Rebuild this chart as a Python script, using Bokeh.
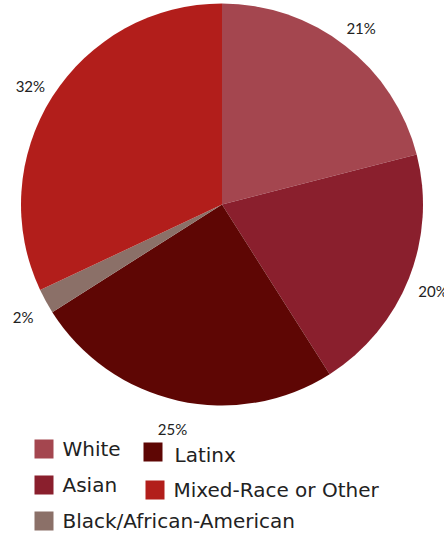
import numpy as np
from bokeh.plotting import figure
from bokeh.models import Range1d, ColumnDataSource
from bokeh.core.properties import value
from bokeh.embed import file_html
from bokeh.resources import INLINE

# ---- data ----
categories = ["White", "Asian", "Latinx", "Black/African-American", "Mixed-Race or Other"]
shares = [21, 20, 25, 2, 32]
labels = ["21%", "20%", "25%", "2%", "32%"]
colors = ["#A4464F", "#8A1F2D", "#5E0604", "#8B7068", "#B21E1B"]

W, H = 444, 533
p = figure(width=W, height=H, output_backend="svg", toolbar_location=None,
           x_range=Range1d(0, W), y_range=Range1d(0, H), min_border=0)
p.axis.visible = False
p.grid.visible = False
p.outline_line_color = None
p.background_fill_color = "white"

cx, cy, r = 221.5, H - 204, 201
frac = np.array(shares, dtype=float) / sum(shares)
cum = np.concatenate([[0], np.cumsum(frac)])
start = np.pi / 2 - 2 * np.pi * cum[:-1]
end = np.pi / 2 - 2 * np.pi * cum[1:]
src = ColumnDataSource(dict(start=start, end=end, color=colors))
p.wedge(x=cx, y=cy, radius=r, start_angle="start", end_angle="end",
        direction="clock", fill_color="color", line_color=None, source=src)

mid = np.pi / 2 - 2 * np.pi * (cum[:-1] + cum[1:]) / 2
lr = 227
lx = cx + lr * np.cos(mid)
ly = cy + lr * np.sin(mid) - 3
p.text(x=lx, y=ly, text=labels, text_align="center", text_baseline="middle",
       text_font=value("Lato"), text_font_size=value("15px"), text_color="#222222")

# legend (manual)
lg_sq_x = [34, 34, 34, 143, 145]
lg_sq_y = [439, 475, 511, 442, 480]
order = [0, 1, 3, 2, 4]
sq = 19
sx, sy, sc, tx, ty, tt = [], [], [], [], [], []
for k, i in enumerate(order):
    x0, y0 = lg_sq_x[k], lg_sq_y[k]
    sx.append(x0 + sq / 2)
    sy.append(H - (y0 + sq / 2))
    sc.append(colors[i])
    tx.append(x0 + sq + 9 + (3 if i == 2 else 0))
    ty.append(H - (y0 + sq / 2) - (3 if i == 2 else 0))
    tt.append(categories[i])
p.rect(x=sx, y=sy, width=sq, height=sq, fill_color=sc, line_color=None)
p.text(x=tx, y=ty, text=tt, text_align="left", text_baseline="middle",
       text_font=value("DejaVu Sans"), text_font_size=value("20px"), text_color="#222222")

open("out.html", "w").write(file_html(p, INLINE))
